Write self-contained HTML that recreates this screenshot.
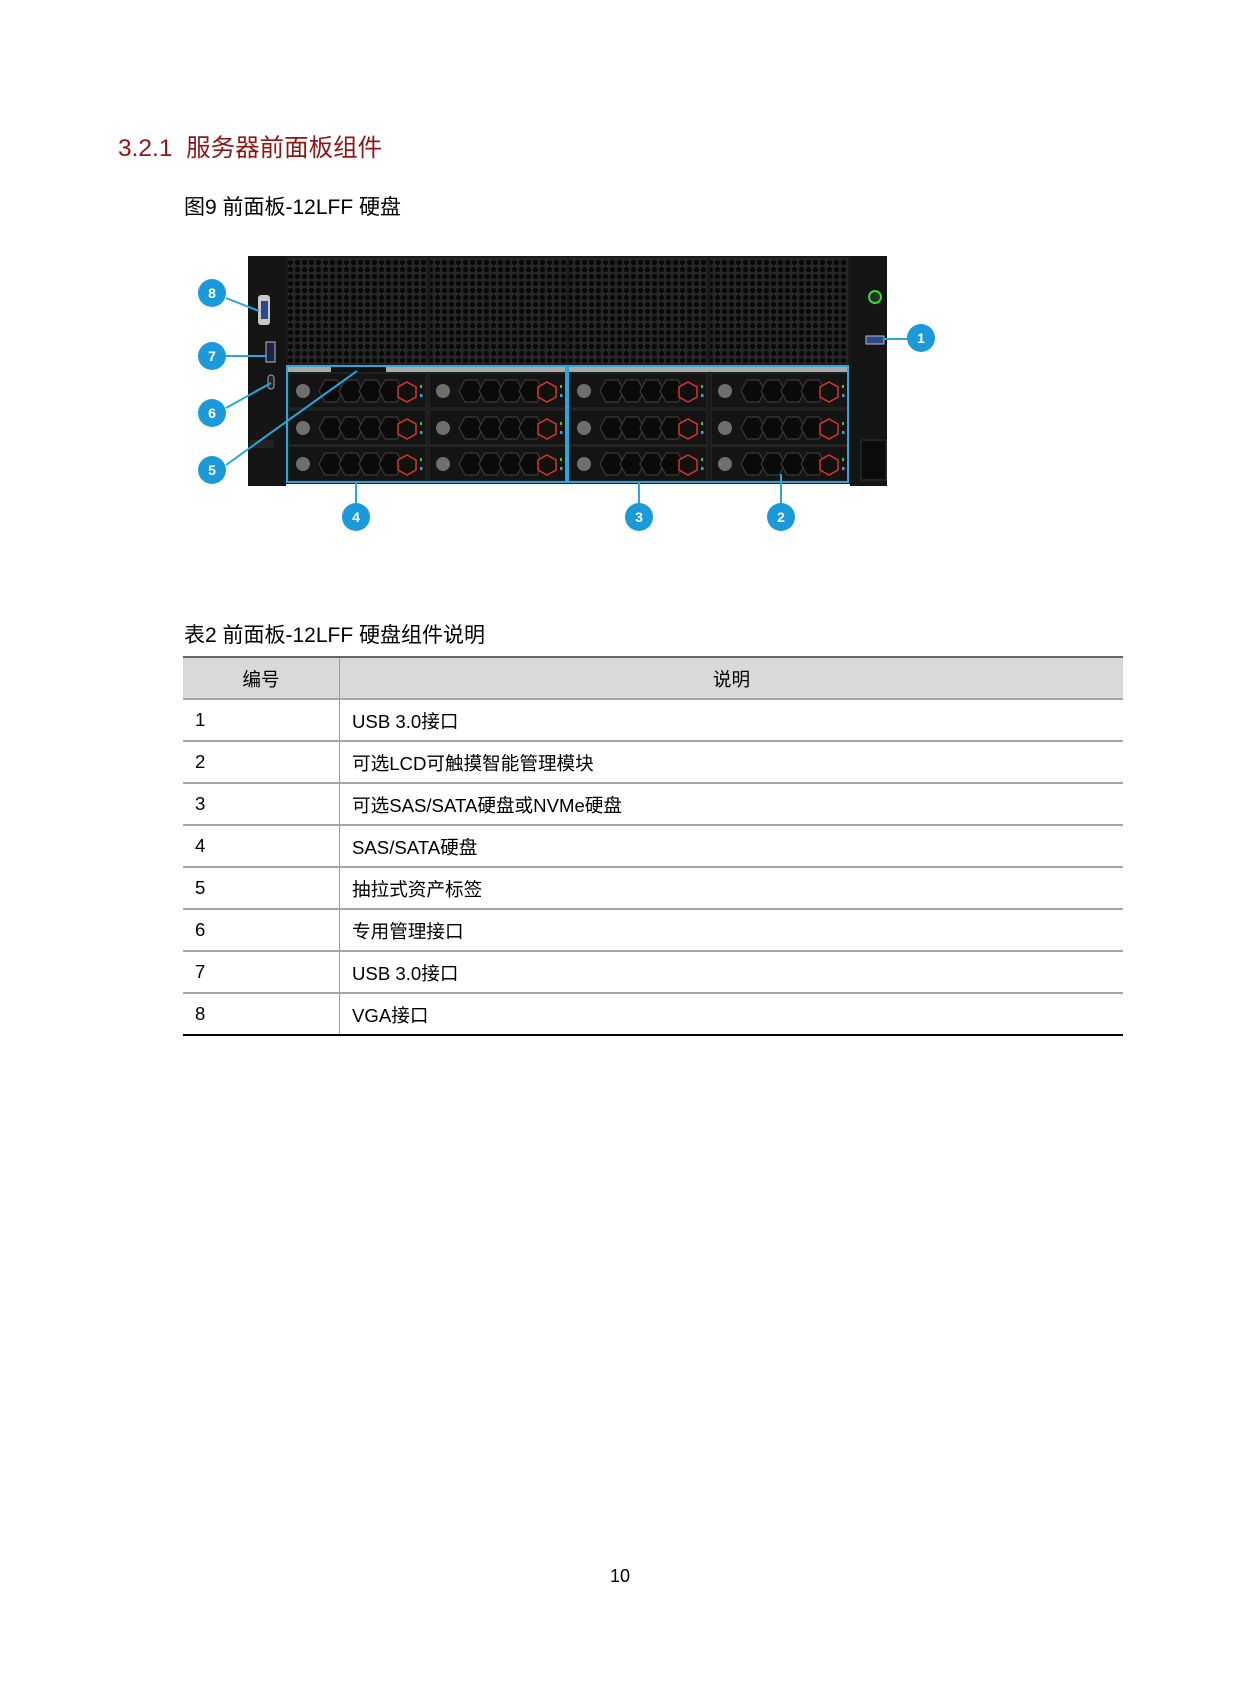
<!DOCTYPE html>
<html><head><meta charset="utf-8"><style>
body{margin:0;background:#fff;}
.page{position:relative;width:1240px;height:1683px;overflow:hidden;font-family:"Liberation Sans","Noto Sans CJK SC",sans-serif;color:#000;}
.t{position:absolute;white-space:nowrap;}
table{position:absolute;left:183px;top:656px;width:940px;border-collapse:collapse;font-size:18.6px;}
td,th{height:40px;padding:0 12px;border-bottom:2px solid #a6a6a6;font-weight:normal;text-align:left;}
th{background:#d9d9d9;text-align:center;border-top:2px solid #666;}
td:first-child,th:first-child{width:132px;border-right:1px solid #999;}
tr:last-child td{border-bottom:2px solid #000;}
</style></head><body><div class="page">
<div class="t" style="left:118px;top:129px;font-size:24.5px;color:#8e1616;">3.2.1&nbsp; 服务器前面板组件</div>
<div class="t" style="left:184px;top:191px;font-size:21px;">图9 前面板-12LFF 硬盘</div>
<div class="t" style="left:184px;top:619px;font-size:21px;">表2 前面板-12LFF 硬盘组件说明</div>
<svg style="position:absolute;left:0;top:0" width="1240" height="560">
<defs>
<pattern id="mesh" width="7" height="7" patternUnits="userSpaceOnUse"><rect width="7" height="7" fill="#262626"/><circle cx="3.5" cy="3.5" r="2.6" fill="#080808"/></pattern>
<g id="drv">
<rect x="0" y="0" width="137" height="35" fill="#141414" stroke="#2a2a2a"/>
<circle cx="14" cy="18" r="7" fill="#6e6e6e"/>
<g fill="#0a0a0a" stroke="#3a3a3a" stroke-width="1.2">
<polygon points="30,18 36,7 48,7 54,18 48,29 36,29"/>
<polygon points="50,18 56,7 68,7 74,18 68,29 56,29"/>
<polygon points="70,18 76,7 88,7 94,18 88,29 76,29"/>
<polygon points="90,18 96,7 108,7 114,18 108,29 96,29"/>
</g>
<polygon points="118,9 127,14 127,24 118,29 109,24 109,14" fill="#111" stroke="#d8352c" stroke-width="1.5"/>
<rect x="131" y="12" width="2" height="3" fill="#3c3"/><rect x="131" y="21" width="2.5" height="3" fill="#29a6de"/>
</g>
</defs>
<rect x="248" y="256" width="38" height="230" fill="#151515"/>
<rect x="850" y="256" width="37" height="230" fill="#151515"/>
<rect x="286" y="256" width="564" height="228" fill="#1a1a1a"/>
<rect x="288" y="258" width="139" height="106" fill="url(#mesh)"/>
<rect x="430" y="258" width="137" height="106" fill="url(#mesh)"/>
<rect x="569" y="258" width="138" height="106" fill="url(#mesh)"/>
<rect x="710" y="258" width="138" height="106" fill="url(#mesh)"/>
<rect x="288" y="367" width="560" height="5" fill="#aaa"/>
<rect x="331" y="366" width="55" height="6" fill="#111"/>
<use href="#drv" x="289" y="373"/><use href="#drv" x="429" y="373"/><use href="#drv" x="570" y="373"/><use href="#drv" x="711" y="373"/>
<use href="#drv" x="289" y="410"/><use href="#drv" x="429" y="410"/><use href="#drv" x="570" y="410"/><use href="#drv" x="711" y="410"/>
<use href="#drv" x="289" y="446"/><use href="#drv" x="429" y="446"/><use href="#drv" x="570" y="446"/><use href="#drv" x="711" y="446"/>
<rect x="258" y="295" width="12" height="30" rx="3" fill="#c8c8c8"/><rect x="261" y="301" width="7" height="18" fill="#2a4a8a"/>
<rect x="266" y="342" width="9" height="20" fill="#224" stroke="#bbb"/>
<rect x="268" y="375" width="6" height="14" rx="3" fill="#222" stroke="#aaa"/>
<rect x="249" y="440" width="25" height="8" fill="#222"/>
<circle cx="875" cy="297" r="6" fill="#1e3a1e" stroke="#4c4" stroke-width="2"/>
<rect x="866" y="336" width="18" height="8" fill="#2a4a8a" stroke="#bbb"/>
<rect x="861" y="440" width="25" height="40" fill="#0c0c0c" stroke="#333"/>
<g fill="none" stroke="#29a6de" stroke-width="2">
<rect x="287" y="366" width="279" height="116"/>
<rect x="568" y="366" width="280" height="116"/>
<line x1="226" y1="298" x2="259" y2="311"/>
<line x1="226" y1="356" x2="267" y2="356"/>
<line x1="226" y1="408" x2="271" y2="383"/>
<line x1="226" y1="465" x2="357" y2="371"/>
<line x1="356" y1="483" x2="356" y2="505"/>
<line x1="639" y1="483" x2="639" y2="505"/>
<line x1="781" y1="474" x2="781" y2="505"/>
<line x1="884" y1="339" x2="909" y2="339"/>
</g>
<g fill="#1a9ad9">
<circle cx="212" cy="293" r="14"/><circle cx="212" cy="356" r="14"/><circle cx="212" cy="413" r="14"/><circle cx="212" cy="470" r="14"/>
<circle cx="356" cy="517" r="14"/><circle cx="639" cy="517" r="14"/><circle cx="781" cy="517" r="14"/><circle cx="921" cy="338" r="14"/>
</g>
<g fill="#fff" font-family="Liberation Sans,sans-serif" font-weight="bold" font-size="14" text-anchor="middle">
<text x="212" y="298">8</text><text x="212" y="361">7</text><text x="212" y="418">6</text><text x="212" y="475">5</text>
<text x="356" y="522">4</text><text x="639" y="522">3</text><text x="781" y="522">2</text><text x="921" y="343">1</text>
</g>
</svg>
<table>
<tr><th>编号</th><th>说明</th></tr>
<tr><td>1</td><td>USB 3.0接口</td></tr>
<tr><td>2</td><td>可选LCD可触摸智能管理模块</td></tr>
<tr><td>3</td><td>可选SAS/SATA硬盘或NVMe硬盘</td></tr>
<tr><td>4</td><td>SAS/SATA硬盘</td></tr>
<tr><td>5</td><td>抽拉式资产标签</td></tr>
<tr><td>6</td><td>专用管理接口</td></tr>
<tr><td>7</td><td>USB 3.0接口</td></tr>
<tr><td>8</td><td>VGA接口</td></tr>
</table>
<div class="t" style="left:610px;top:1566px;font-size:18px;">10</div>
</div></body></html>
